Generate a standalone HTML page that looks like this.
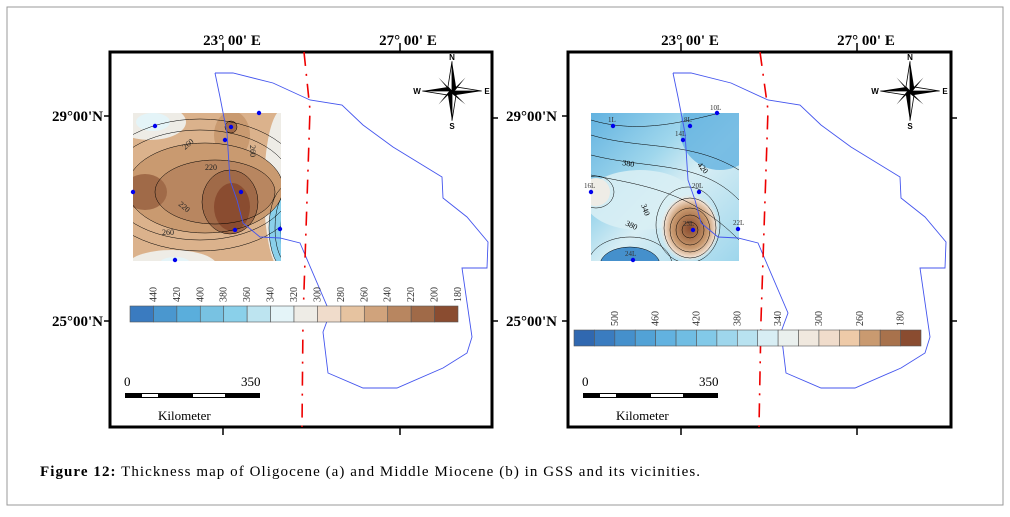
<!DOCTYPE html>
<html><head><meta charset="utf-8"><style>
body{margin:0;background:#fff;width:1010px;height:512px;overflow:hidden;font-family:"Liberation Serif",serif}
</style></head><body>
<svg width="1010" height="512" xmlns="http://www.w3.org/2000/svg">
<defs>
<clipPath id="cl"><rect x="133" y="113" width="148" height="148"/></clipPath>
<clipPath id="cr"><rect x="591" y="113" width="148" height="148"/></clipPath>
<radialGradient id="gbull"><stop offset="0" stop-color="#8a4c30"/><stop offset="0.3" stop-color="#a8724c"/><stop offset="0.6" stop-color="#c99a70"/><stop offset="0.85" stop-color="#f0dccb"/><stop offset="1" stop-color="#e4f0f2" stop-opacity="0"/></radialGradient>
<linearGradient id="gright" x1="0" y1="0" x2="1" y2="1"><stop offset="0" stop-color="#62b2e0"/><stop offset="0.35" stop-color="#9ed6ec"/><stop offset="0.55" stop-color="#d8eef4"/><stop offset="1" stop-color="#9ed6ec"/></linearGradient>
<g id="compass">
<g transform="scale(1.35)">
<polygon points="0,-22 3,-3 0,0" fill="#000"/><polygon points="0,-22 -3,-3 0,0" fill="#fff" stroke="#000" stroke-width="0.6"/>
<polygon points="0,22 -3,3 0,0" fill="#000"/><polygon points="0,22 3,3 0,0" fill="#fff" stroke="#000" stroke-width="0.6"/>
<polygon points="22,0 3,3 0,0" fill="#000"/><polygon points="22,0 3,-3 0,0" fill="#fff" stroke="#000" stroke-width="0.6"/>
<polygon points="-22,0 -3,-3 0,0" fill="#000"/><polygon points="-22,0 -3,3 0,0" fill="#fff" stroke="#000" stroke-width="0.6"/>
<polygon points="10,-10 2,0 0,0" fill="#000"/><polygon points="-10,-10 0,2 0,0" fill="#000"/>
<polygon points="10,10 0,2 0,0" fill="#000"/><polygon points="-10,10 -2,0 0,0" fill="#000"/>
</g>
<text x="0" y="-31" font-size="8" font-weight="bold" text-anchor="middle" font-family="Liberation Sans,sans-serif">N</text>
<text x="0" y="38" font-size="8" font-weight="bold" text-anchor="middle" font-family="Liberation Sans,sans-serif">S</text>
<text x="-35" y="3" font-size="8" font-weight="bold" text-anchor="middle" font-family="Liberation Sans,sans-serif">W</text>
<text x="35" y="3" font-size="8" font-weight="bold" text-anchor="middle" font-family="Liberation Sans,sans-serif">E</text>
</g>
<polyline id="outline" fill="none" stroke="#4455ee" stroke-width="0.9" points="215,73 233,73 273,83 310,100 342,105 363,125 393,147 442,177 443,198 467,217 488,242 487,268 462,268 472,337 467,353 443,368 397,388 363,388 328,373 323,332 330,313 300,243 280,238 260,237 243,223 237,200 230,180 227,133 220,97 215,73"/>
</defs>
<rect x="7" y="7" width="996" height="498" fill="none" stroke="#999" stroke-width="1"/>

<!-- LEFT PANEL -->
<g>
<rect x="110" y="52" width="382" height="375" fill="#fff" stroke="#000" stroke-width="3"/>
<g clip-path="url(#cl)">
<rect x="133" y="113" width="148" height="148" fill="#dbb28c"/>
<ellipse cx="150" cy="122" rx="36" ry="18" fill="#eeece6"/>
<ellipse cx="153" cy="122" rx="17" ry="9" fill="#e4f4f8"/>
<ellipse cx="172" cy="266" rx="45" ry="16" fill="#eeece6"/>
<ellipse cx="175" cy="263" rx="15" ry="6" fill="#e4f4f8"/>
<ellipse cx="282" cy="190" rx="18" ry="80" fill="#eeece6"/>
<ellipse cx="287" cy="228" rx="18" ry="42" fill="#8ad0ea"/>
<ellipse cx="291" cy="232" rx="11" ry="30" fill="#5aaedc"/>
<ellipse cx="205" cy="188" rx="78" ry="45" fill="#c99a70"/>
<ellipse cx="215" cy="192" rx="60" ry="32" fill="#b88660"/>
<ellipse cx="230" cy="202" rx="28" ry="32" fill="#a06a48"/>
<ellipse cx="232" cy="207" rx="18" ry="24" fill="#8a4c30"/>
<ellipse cx="145" cy="192" rx="22" ry="18" fill="#a06a48"/>
<ellipse cx="232" cy="135" rx="18" ry="24" fill="#c99a70"/>
<ellipse cx="231" cy="127" rx="6" ry="6" fill="#a06a48" stroke="#000" stroke-width="0.5"/>
<g fill="none" stroke="#000" stroke-width="0.5">
<ellipse cx="205" cy="188" rx="78" ry="45"/><ellipse cx="215" cy="192" rx="60" ry="32"/><ellipse cx="230" cy="202" rx="28" ry="32"/>
<ellipse cx="200" cy="185" rx="92" ry="55"/><ellipse cx="200" cy="185" rx="104" ry="66"/>
<ellipse cx="287" cy="228" rx="18" ry="42"/><ellipse cx="287" cy="228" rx="12" ry="34"/><ellipse cx="287" cy="228" rx="6" ry="25"/>
</g>
<text x="185" y="150" font-size="8" fill="#222" transform="rotate(-40 185 150)">260</text>
<text x="205" y="170" font-size="8" fill="#222">220</text>
<text x="178" y="205" font-size="8" fill="#222" transform="rotate(40 178 205)">220</text>
<text x="162" y="235" font-size="8" fill="#222">260</text>
<text x="250" y="145" font-size="8" fill="#222" transform="rotate(90 250 145)">260</text>
</g>
<g fill="#0000ee">
<circle cx="155" cy="126" r="2.2"/><circle cx="231" cy="127" r="2.2"/><circle cx="225" cy="140" r="2.2"/><circle cx="259" cy="113" r="2.2"/><circle cx="133" cy="192" r="2.2"/><circle cx="241" cy="192" r="2.2"/><circle cx="235" cy="230" r="2.2"/><circle cx="280" cy="229" r="2.2"/><circle cx="175" cy="260" r="2.2"/>
</g>
<use href="#outline"/>
<polyline points="304,52 310,110 307,200 303,320 302,427" fill="none" stroke="#e00" stroke-width="1.6" stroke-dasharray="14,8,2,8"/>
<use href="#compass" x="452" y="91"/>
<g font-size="15" font-weight="bold">
<text x="232" y="45" text-anchor="middle">23° 00' E</text>
<text x="408" y="45" text-anchor="middle">27° 00' E</text>
<text x="103" y="121" text-anchor="end">29°00'N</text>
<text x="103" y="326" text-anchor="end">25°00'N</text>
</g>
<g stroke="#000" stroke-width="1.5">
<line x1="223" y1="43" x2="223" y2="52"/><line x1="400" y1="43" x2="400" y2="52"/>
<line x1="223" y1="427" x2="223" y2="435"/><line x1="400" y1="427" x2="400" y2="435"/>
<line x1="104" y1="116" x2="110" y2="116"/><line x1="104" y1="321" x2="110" y2="321"/>
<line x1="492" y1="118" x2="498" y2="118"/><line x1="492" y1="321" x2="498" y2="321"/>
</g>
<g id="cbarA"></g>
<g>
<rect x="125" y="393" width="135" height="5" fill="#000"/>
<rect x="142" y="394" width="16" height="3" fill="#fff"/><rect x="193" y="394" width="32" height="3" fill="#fff"/>
<text x="124" y="386" font-size="13">0</text><text x="241" y="386" font-size="13">350</text>
<text x="158" y="420" font-size="13">Kilometer</text>
</g>
</g>

<!-- RIGHT PANEL -->
<g>
<rect x="568" y="52" width="383" height="375" fill="#fff" stroke="#000" stroke-width="3"/>
<g clip-path="url(#cr)">
<rect x="591" y="113" width="148" height="148" fill="url(#gright)"/>
<ellipse cx="720" cy="130" rx="40" ry="40" fill="#62b2e0" opacity="0.8"/>
<ellipse cx="640" cy="200" rx="55" ry="30" fill="#d8eef4" opacity="0.9"/>
<ellipse cx="596" cy="192" rx="14" ry="14" fill="#eeece6"/>
<ellipse cx="630" cy="265" rx="30" ry="18" fill="#4590cc"/>
<ellipse cx="690" cy="228" rx="30" ry="34" fill="url(#gbull)"/>
<g fill="none" stroke="#000" stroke-width="0.5">
<ellipse cx="690" cy="230" rx="8" ry="8"/><ellipse cx="690" cy="230" rx="14" ry="15"/><ellipse cx="690" cy="230" rx="20" ry="22"/><ellipse cx="690" cy="228" rx="26" ry="30"/><ellipse cx="688" cy="225" rx="32" ry="38"/>
<path d="M591,135 C640,150 690,140 739,170"/><path d="M591,155 C650,170 700,160 739,200"/><path d="M591,175 C640,185 690,190 739,240"/>
<path d="M591,120 C640,135 690,120 720,113"/><ellipse cx="630" cy="265" rx="30" ry="18"/><ellipse cx="630" cy="265" rx="42" ry="28"/><ellipse cx="596" cy="192" rx="18" ry="16"/>
</g>
<text x="622" y="165" font-size="8" transform="rotate(10 622 165)">380</text>
<text x="697" y="165" font-size="8" transform="rotate(50 697 165)">420</text>
<text x="641" y="205" font-size="8" transform="rotate(70 641 205)">340</text>
<text x="625" y="225" font-size="8" transform="rotate(25 625 225)">380</text>
</g>
<g fill="#0000ee">
<circle cx="613" cy="126" r="2.2"/><circle cx="690" cy="126" r="2.2"/><circle cx="683" cy="140" r="2.2"/><circle cx="717" cy="113" r="2.2"/><circle cx="591" cy="192" r="2.2"/><circle cx="699" cy="192" r="2.2"/><circle cx="693" cy="230" r="2.2"/><circle cx="738" cy="229" r="2.2"/><circle cx="633" cy="260" r="2.2"/>
</g>
<g font-size="7" fill="#333">
<text x="608" y="122">1L</text><text x="684" y="122">8L</text><text x="710" y="110">10L</text><text x="675" y="136">14L</text><text x="584" y="188">16L</text><text x="692" y="188">20L</text><text x="733" y="225">22L</text><text x="683" y="226">23L</text><text x="625" y="256">24L</text>
</g>
<use href="#outline" x="458"/>
<polyline points="760,52 768,110 765,200 761,320 759,427" fill="none" stroke="#e00" stroke-width="1.6" stroke-dasharray="14,8,2,8"/>
<use href="#compass" x="910" y="91"/>
<g font-size="15" font-weight="bold">
<text x="690" y="45" text-anchor="middle">23° 00' E</text>
<text x="866" y="45" text-anchor="middle">27° 00' E</text>
<text x="557" y="121" text-anchor="end">29°00'N</text>
<text x="557" y="326" text-anchor="end">25°00'N</text>
</g>
<g stroke="#000" stroke-width="1.5">
<line x1="681" y1="43" x2="681" y2="52"/><line x1="857" y1="43" x2="857" y2="52"/>
<line x1="681" y1="427" x2="681" y2="435"/><line x1="857" y1="427" x2="857" y2="435"/>
<line x1="562" y1="116" x2="568" y2="116"/><line x1="562" y1="321" x2="568" y2="321"/>
<line x1="951" y1="118" x2="957" y2="118"/><line x1="951" y1="321" x2="957" y2="321"/>
</g>
<g id="cbarB"></g>
<g>
<rect x="583" y="393" width="135" height="5" fill="#000"/>
<rect x="600" y="394" width="16" height="3" fill="#fff"/><rect x="651" y="394" width="32" height="3" fill="#fff"/>
<text x="582" y="386" font-size="13">0</text><text x="699" y="386" font-size="13">350</text>
<text x="616" y="420" font-size="13">Kilometer</text>
</g>
</g>

<text x="40" y="476" font-size="15" textLength="660" lengthAdjust="spacing"><tspan font-weight="bold">Figure 12:</tspan> Thickness map of Oligocene (a) and Middle Miocene (b) in GSS and its vicinities.</text>
</svg>
<script>
const colorsA = ["#3a7bc0","#4a97cf","#5aaedc","#78c2e2","#8ad0ea","#bde4f0","#e4f4f8","#eeece6","#f0dccb","#e6c3a0","#d0a37c","#b88660","#a06a48","#8a4c30"];
const labelsA = ["440","420","400","380","360","340","320","300","280","260","240","220","200","180"];
const colorsB = ["#3068b0","#3a7cc0","#4590cc","#52a2d6","#62b2e0","#70bde3","#82c9e8","#9ed6ec","#b8e2f0","#d8eef4","#eaf0ee","#f0e8de","#f0dccb","#eecaa8","#c99a70","#a8724c","#8a4c30"];
const labelsB = ["","500","","460","","420","","380","","340","","300","","260","","180",""];
const NS = "http://www.w3.org/2000/svg";
function drawBar(gid, colors, labels, x0, y0, w, h, labelY){
  const g = document.getElementById(gid);
  const cw = w / colors.length;
  colors.forEach((c, i) => {
    const r = document.createElementNS(NS, "rect");
    r.setAttribute("x", x0 + i * cw); r.setAttribute("y", y0);
    r.setAttribute("width", cw); r.setAttribute("height", h);
    r.setAttribute("fill", c); r.setAttribute("stroke", "#555"); r.setAttribute("stroke-width", "0.6");
    
    
    g.appendChild(r);
    if (labels[i]) {
      const t = document.createElementNS(NS, "text");
      const lx = x0 + (i + 1) * cw + 3;
      t.setAttribute("x", lx); t.setAttribute("y", labelY);
      t.setAttribute("font-size", "10"); t.setAttribute("fill", "#333");
      t.setAttribute("transform", "rotate(-90 " + lx + " " + labelY + ")");
      t.textContent = labels[i];
      
      
      g.appendChild(t);
    }
  });
}
drawBar("cbarA", colorsA, labelsA, 130, 306, 328, 16, 302);
drawBar("cbarB", colorsB, labelsB, 574, 330, 347, 16, 326);
</script>
</body></html>
